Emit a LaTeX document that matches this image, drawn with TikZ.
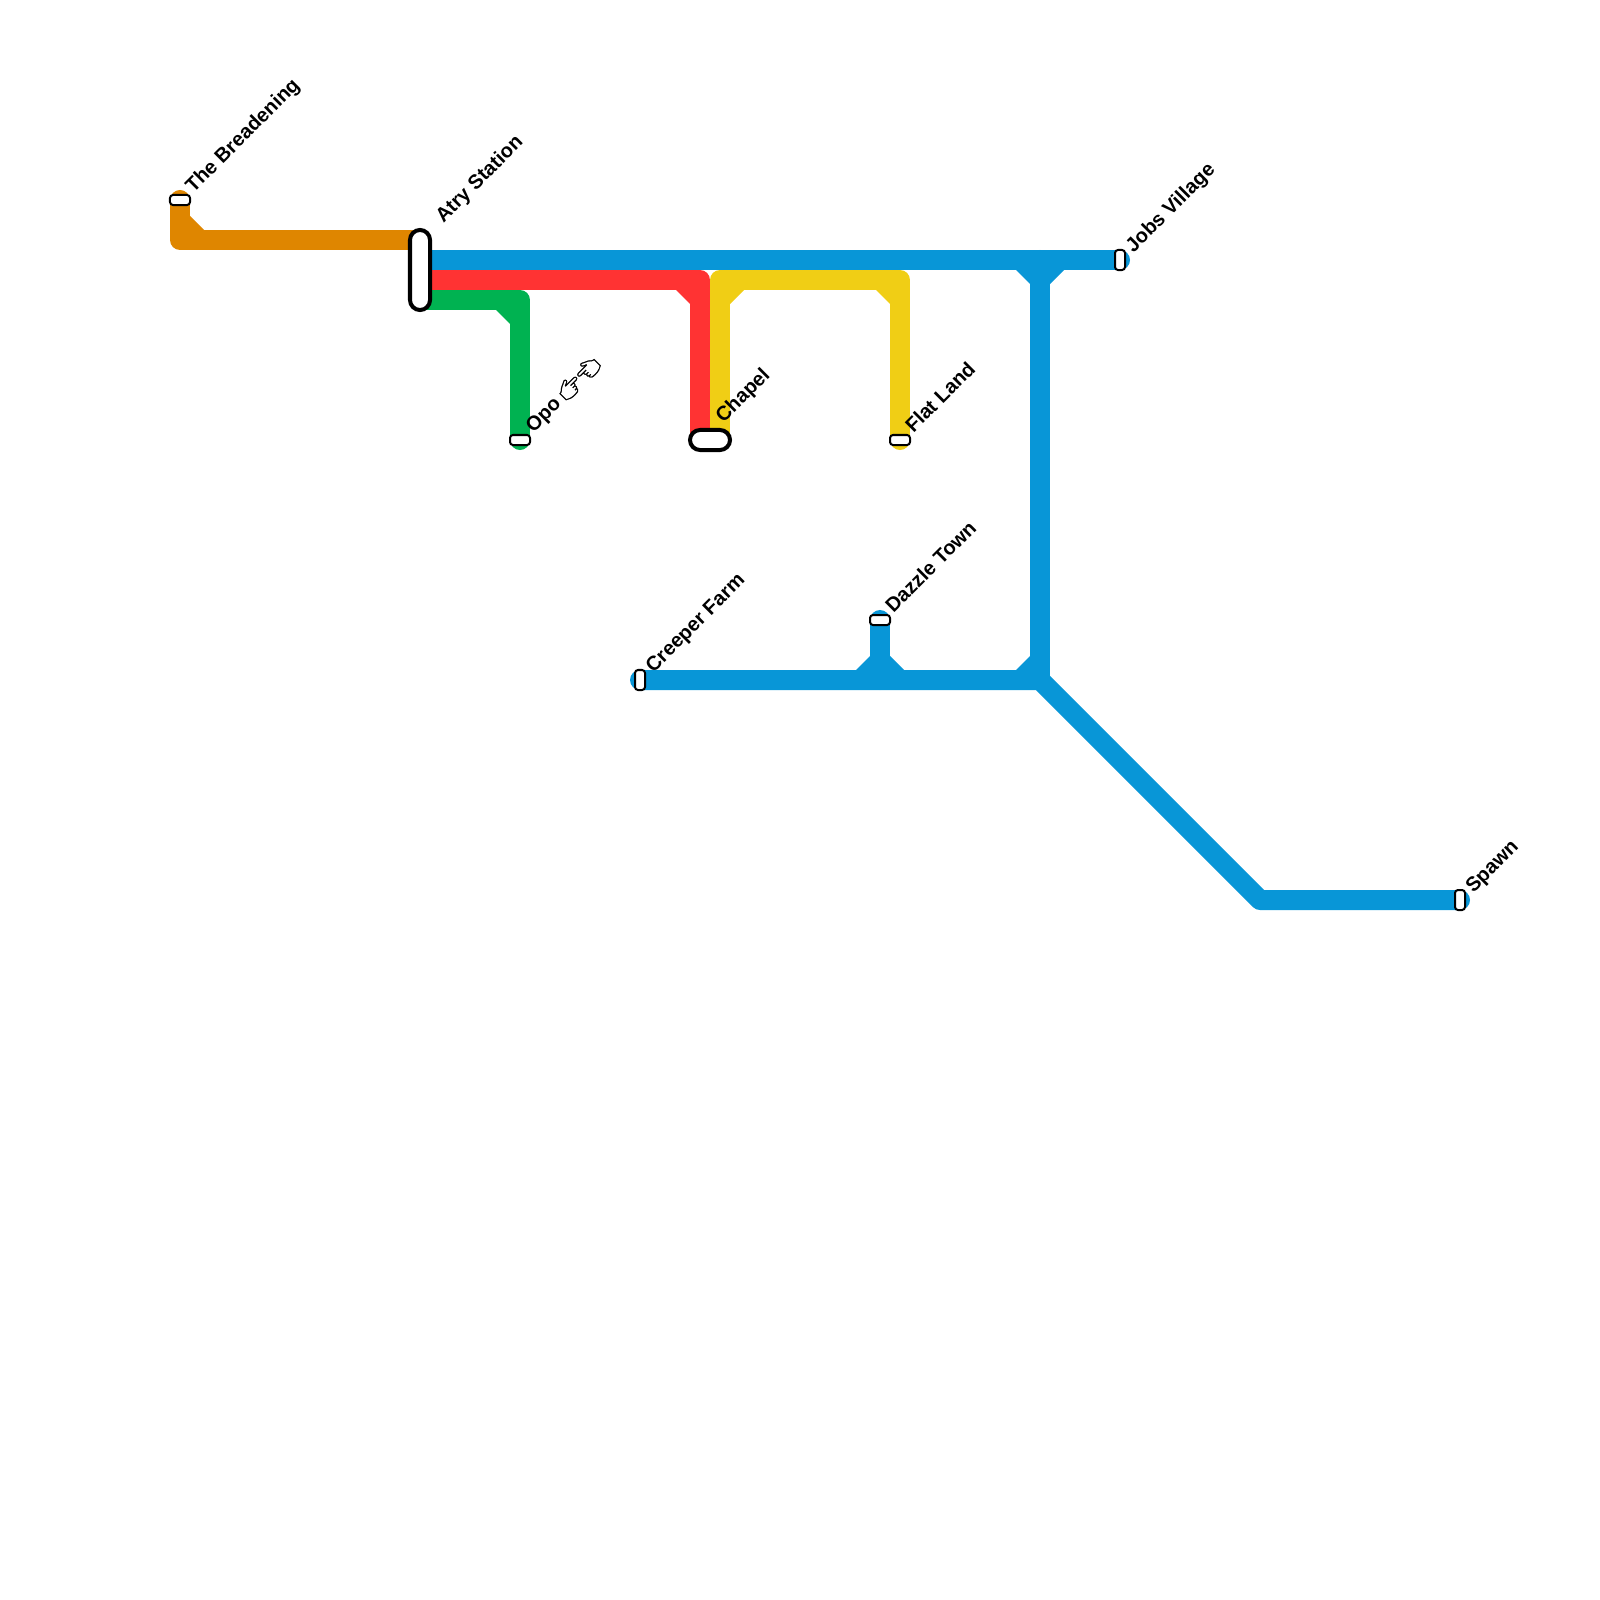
\documentclass[tikz,border=0pt]{standalone}
\usepackage{fontspec}
\setmainfont{Liberation Sans}
\newfontfamily\handfont[FakeBold=1.2]{Noto Emoji}
\usetikzlibrary{backgrounds}

\definecolor{lineorange}{HTML}{DF8600}
\definecolor{lineblue}{HTML}{0896D7}
\definecolor{linered}{HTML}{FF3333}
\definecolor{linegreen}{HTML}{00B251}
\definecolor{lineyellow}{HTML}{F0CE15}

\tikzset{
  metroline/.style={line width=2mm,line cap=round,line join=round},
  stopbase/.style={draw=black,fill=white,rectangle,inner sep=0pt},
  stopwide/.style={stopbase,line width=0.2mm,minimum width=2mm,minimum height=1mm,rounded corners=0.3mm},
  stoptall/.style={stopbase,line width=0.2mm,minimum width=1mm,minimum height=2mm,rounded corners=0.3mm},
  stopbig/.style={stopbase,line width=0.4mm,rounded corners=1mm},
  stoplabel/.style={anchor=base west,rotate=45,inner sep=0pt,font=\fontsize{5.7pt}{7pt}\selectfont\bfseries},
}

\begin{document}
\begin{tikzpicture}[x=0.01cm,y=-0.01cm]

\useasboundingbox (0,0) rectangle (1600,1600);

% Stations
\node[stopwide] (breadening) at (180,200) {};
\node[stopbig,minimum width=2mm,minimum height=8mm] (atry) at (420,270) {};
\node[stopwide] (opo) at (520,440) {};
\node[stopbig,minimum width=4mm,minimum height=2mm] (chapel) at (710,440) {};
\node[stopwide] (flatland) at (900,440) {};
\node[stoptall] (jobs) at (1120,260) {};
\node[stoptall] (creeper) at (640,680) {};
\node[stopwide] (dazzle) at (880,620) {};
\node[stoptall] (spawn) at (1460,900) {};

% Ends and bends of the lines
\coordinate (atryorange) at (420,240);
\coordinate (atryblue) at (420,260);
\coordinate (atryred) at (420,280);
\coordinate (atrygreen) at (420,300);
\coordinate (chapelred) at (700,440);
\coordinate (chapelyellow) at (720,440);
\coordinate (bendorange) at (180,240);
\coordinate (bendgreen) at (520,300);
\coordinate (bendred) at (700,280);
\coordinate (bendyellowa) at (720,280);
\coordinate (bendyellowb) at (900,280);
\coordinate (junctop) at (1040,260);
\coordinate (juncbottom) at (1040,680);
\coordinate (juncdazzle) at (880,680);
\coordinate (bendspawn) at (1260,900);

\begin{pgfonlayer}{background}
% Orange line
\draw[metroline,lineorange] (breadening.center)--(bendorange)--(atryorange);
\fill[lineorange] (189,215)--(189,231)--(205,231)--cycle;

% Green line
\draw[metroline,linegreen] (atrygreen)--(bendgreen)--(opo.center);
\fill[linegreen] (495,309)--(511,309)--(511,325)--cycle;

% Red line
\draw[metroline,linered] (atryred)--(bendred)--(chapelred);
\fill[linered] (675,289)--(691,289)--(691,305)--cycle;

% Yellow line
\draw[metroline,lineyellow] (chapelyellow)--(bendyellowa)--(bendyellowb)--(flatland.center);
\fill[lineyellow] (745,289)--(729,289)--(729,305)--cycle;
\fill[lineyellow] (875,289)--(891,289)--(891,305)--cycle;

% Blue lines
\draw[metroline,lineblue] (atryblue)--(jobs.center);
\draw[metroline,lineblue] (junctop)--(juncbottom);
\draw[metroline,lineblue] (creeper.center)--(juncbottom)--(bendspawn)--(spawn.center);
\draw[metroline,lineblue] (dazzle.center)--(juncdazzle);
\fill[lineblue] (1015,269)--(1031,269)--(1031,285)--cycle;
\fill[lineblue] (1065,269)--(1049,269)--(1049,285)--cycle;
\fill[lineblue] (1015,671)--(1031,671)--(1031,655)--cycle;
\fill[lineblue] (855,671)--(871,671)--(871,655)--cycle;
\fill[lineblue] (905,671)--(889,671)--(889,655)--cycle;
\end{pgfonlayer}

% Labels
\node[stoplabel] (breadeninglabel) at (193,194) {The Breadening};
\node[stoplabel] (atrylabel) at (443,224) {Atry Station};
\node[stoplabel] (opolabel) at (533,434) {Opo {\handfont\char"1F449\char"1F448}};
\node[stoplabel] (chapellabel) at (723,424) {Chapel};
\node[stoplabel] (flatlandlabel) at (913,434) {Flat Land};
\node[stoplabel] (jobslabel) at (1133,254) {Jobs Village};
\node[stoplabel] (creeperlabel) at (653,674) {Creeper Farm};
\node[stoplabel] (dazzlelabel) at (893,614) {Dazzle Town};
\node[stoplabel] (spawnlabel) at (1473,894) {Spawn};

\end{tikzpicture}
\end{document}
